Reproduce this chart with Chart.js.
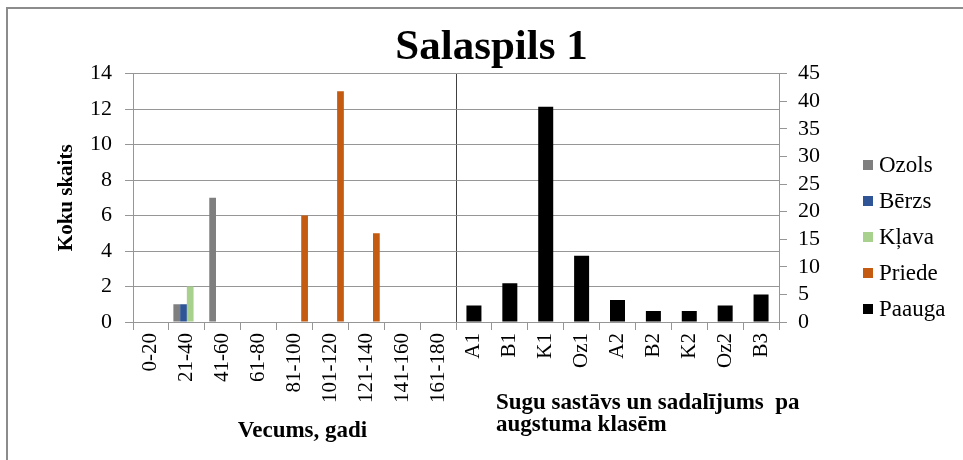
<!DOCTYPE html>
<html>
<head>
<meta charset="utf-8">
<script src="https://cdn.jsdelivr.net/npm/chart.js@4/dist/chart.umd.min.js"></script>
<style>
  body { margin: 0; background: #fff; }
  canvas { display: block; }
</style>
</head>
<body>
<canvas id="chart1" width="963" height="460"></canvas>
<script>
"use strict";

// categories: age classes, then height classes
var categories = ['0-20', '21-40', '41-60', '61-80', '81-100', '101-120', '121-140', '141-160', '161-180',
                  'A1', 'B1', 'K1', 'Oz1', 'A2', 'B2', 'K2', 'Oz2', 'B3'];

// trees by age (left axis)
var ozols  = [0, 1, 7, 0, 0, 0,  0, 0, 0, null, null, null, null, null, null, null, null, null];
var berzs  = [0, 1, 0, 0, 0, 0,  0, 0, 0, null, null, null, null, null, null, null, null, null];
var klava  = [0, 2, 0, 0, 0, 0,  0, 0, 0, null, null, null, null, null, null, null, null, null];
var priede = [0, 0, 0, 0, 6, 13, 5, 0, 0, null, null, null, null, null, null, null, null, null];
// undergrowth by height class (right axis)
var paauga = [null, null, null, null, null, null, null, null, null, 3, 7, 39, 12, 4, 2, 2, 3, 5];

var seriesNames  = ['Ozols', 'Bērzs', 'Kļava', 'Priede', 'Paauga'];
var seriesColors = ['#7f7f7f', '#2f5597', '#a9d18e', '#c55a11', '#000000'];

var chartTitle = 'Salaspils 1';
var leftAxisTitle = 'Koku skaits';
var ageAxisTitle = 'Vecums, gadi';
var classAxisTitle = ['Sugu sastāvs un sadalījums  pa', 'augstuma klasēm'];

var serif = "'Liberation Serif', 'Times New Roman', serif";
var gridGray = '#969696';
var splitIndex = 9; // first height class

// frame, two bottom axis titles and the legend
var extras = {
  id: 'extras',
  beforeDraw: function(chart) {
    var c = chart.ctx;
    c.save();
    c.strokeStyle = '#8c8c8c';
    c.lineWidth = 2;
    c.strokeRect(7, 8, 1200, 1000);
    c.restore();
  },
  afterDraw: function(chart) {
    var c = chart.ctx;
    var xs = chart.scales.x;
    var sep = (xs.getPixelForValue(splitIndex - 1) + xs.getPixelForValue(splitIndex)) / 2;
    c.save();
    c.fillStyle = '#000';
    c.font = 'bold 23px ' + serif;
    c.textBaseline = 'alphabetic';
    c.textAlign = 'center';
    c.fillText(ageAxisTitle, (chart.chartArea.left + sep) / 2 + 8, 437);
    c.textAlign = 'left';
    classAxisTitle.forEach(function(line, i) {
      c.fillText(line, sep + 40, 409 + i * 22);
    });

    // legend
    c.font = '23px ' + serif;
    c.textBaseline = 'middle';
    chart.data.datasets.forEach(function(ds, i) {
      var y = 165 + i * 36;
      c.fillStyle = ds.backgroundColor;
      c.fillRect(863, y - 5, 10, 10);
      c.fillStyle = '#000';
      c.fillText(ds.label, 879, y + 1);
    });
    c.restore();
  }
};

var primary = [ozols, berzs, klava, priede];
var datasets = primary.map(function(vals, i) {
  return {
    label: seriesNames[i],
    data: vals,
    backgroundColor: seriesColors[i],
    borderWidth: 0,
    yAxisID: 'y',
    categoryPercentage: 0.75,
    barPercentage: 1.0
  };
});
datasets.push({
  label: seriesNames[4],
  data: paauga,
  backgroundColor: seriesColors[4],
  borderWidth: 0,
  yAxisID: 'y1',
  grouped: false,
  maxBarThickness: 15
});

var ctx = document.getElementById('chart1').getContext('2d');
var myChart = new Chart(ctx, {
  type: 'bar',
  data: {
    labels: categories,
    datasets: datasets
  },
  options: {
    responsive: false,
    animation: false,
    layout: {
      padding: { left: 50, right: 30, top: 12, bottom: 0 }
    },
    plugins: {
      legend: { display: false },
      tooltip: { enabled: false },
      title: {
        display: true,
        text: chartTitle,
        color: '#000',
        font: { family: serif, size: 43, weight: 'bold' },
        padding: { top: 10, bottom: 0 }
      }
    },
    scales: {
      x: {
        offset: true,
        grid: {
          offset: true,
          drawOnChartArea: true,
          color: function(c) { return c.index === splitIndex ? '#404040' : 'transparent'; },
          tickColor: gridGray,
          tickLength: 8
        },
        border: { color: gridGray },
        ticks: {
          autoSkip: false,
          minRotation: 90,
          maxRotation: 90,
          padding: 3,
          color: '#000',
          font: { family: serif, size: 21 }
        },
        afterFit: function(scale) { scale.height = 138; }
      },
      y: {
        position: 'left',
        min: 0,
        max: 14,
        ticks: {
          stepSize: 2,
          autoSkip: false,
          padding: 13,
          color: '#000',
          font: { family: serif, size: 22 }
        },
        grid: { color: gridGray, tickColor: gridGray, tickLength: 8 },
        border: { color: gridGray },
        title: {
          display: true,
          text: leftAxisTitle,
          color: '#000',
          font: { family: serif, size: 21, weight: 'bold' }
        },
        afterFit: function(scale) { scale.width = 83; }
      },
      y1: {
        position: 'right',
        min: 0,
        max: 45,
        ticks: {
          stepSize: 5,
          autoSkip: false,
          padding: 11,
          color: '#000',
          font: { family: serif, size: 22 }
        },
        grid: { drawOnChartArea: false, tickColor: gridGray, tickLength: 8 },
        border: { color: gridGray },
        afterFit: function(scale) { scale.width = 154; }
      }
    }
  },
  plugins: [extras]
});
</script>
</body>
</html>
